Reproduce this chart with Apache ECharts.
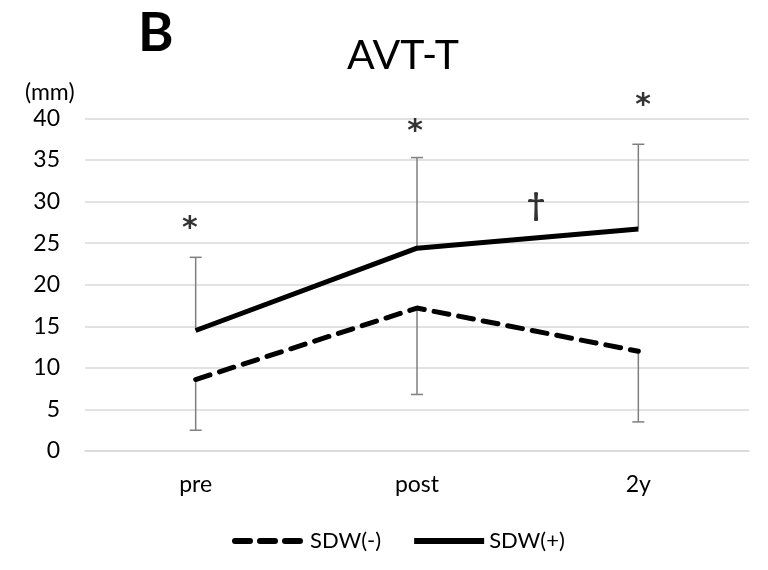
<!DOCTYPE html>
<html><head><meta charset="utf-8">
<script src="https://cdn.jsdelivr.net/npm/echarts@6/dist/echarts.min.js"></script>
<style>html,body{margin:0;padding:0;background:#fff}#c{width:768px;height:570px}</style>
</head><body><div id="c"></div>
<script>
var categories = ['pre', 'post', '2y'];
var sdwMinus = [8.6, 17.2, 12.0];
var sdwPlus = [14.5, 24.4, 26.7];
var sdwMinusLow = [2.5, 6.8, 3.5];
var sdwPlusHigh = [23.3, 35.3, 36.9];
var yTicks = [0, 5, 10, 15, 20, 25, 30, 35, 40];
var markX = [0.474, 1.491, 2.521, 2.038];
var markY = [27.6, 39.3, 42.5, 29.7];
var markText = ['*', '*', '*', '\u2020'];
var FONT = 'Lato';

var chart = echarts.init(document.getElementById('c'), null, {renderer: 'canvas'});

function errItem(params, api) {
  var x = api.value(0), a = api.value(1), b = api.value(2);
  var p1 = api.coord([x, a]), p2 = api.coord([x, b]);
  var cap = 6;
  var st = {stroke: '#7f7f7f', lineWidth: 1.5};
  return {type: 'group', children: [
    {type: 'line', shape: {x1: p1[0], y1: p1[1], x2: p2[0], y2: p2[1]}, style: st},
    {type: 'line', shape: {x1: p2[0] - cap, y1: p2[1], x2: p2[0] + cap, y2: p2[1]}, style: st}
  ]};
}

var starLabel = {fontFamily: 'DejaVu Sans', fontWeight: 'bold', fontSize: 30, offset: [0, 8]};
var daggerLabel = {fontFamily: FONT, fontWeight: 'bold', fontSize: 32, offset: [0, 2]};

var option = {
  animation: false,
  backgroundColor: '#fff',
  textStyle: {fontFamily: FONT},
  title: [
    {text: 'AVT-T', left: 398, top: 30, textAlign: 'center',
     textStyle: {fontFamily: FONT, fontSize: 41, fontWeight: 'normal', color: '#000'}},
    {text: 'B', left: 133, top: 2,
     textStyle: {fontFamily: FONT, fontSize: 54, fontWeight: 'bold', color: '#000'}},
    {text: '(mm)', left: 20, top: 76,
     textStyle: {fontFamily: FONT, fontSize: 23, fontWeight: 'normal', color: '#000'}}
  ],
  grid: {left: 85, right: 19, top: 118.5, bottom: 119, containLabel: false},
  legend: {
    bottom: 13, left: 227, itemWidth: 70, itemHeight: 14, itemGap: 30,
    data: ['SDW(-)', 'SDW(+)'],
    itemStyle: {opacity: 0},
    lineStyle: {width: 6},
    textStyle: {fontFamily: FONT, fontSize: 22, color: '#000'}
  },
  xAxis: [
    {type: 'category', data: categories, boundaryGap: true,
     axisLine: {show: true, lineStyle: {color: '#d9d9d9', width: 1.5}},
     axisTick: {show: false},
     axisLabel: {fontFamily: FONT, fontSize: 23, color: '#000', margin: 22}},
    {type: 'value', min: 0, max: 3, show: false}
  ],
  yAxis: {
    type: 'value', min: 0, max: 40, interval: 5,
    axisLine: {show: false}, axisTick: {show: false},
    axisLabel: {fontFamily: FONT, fontSize: 23, color: '#000', margin: 25},
    splitLine: {lineStyle: {color: '#d9d9d9', width: 1.5}}
  },
  series: [
    {type: 'custom', name: 'errMinus', renderItem: errItem, z: 1,
     data: categories.map(function (c, i) { return [i, sdwMinus[i], sdwMinusLow[i]]; })},
    {type: 'custom', name: 'errPlus', renderItem: errItem, z: 1,
     data: categories.map(function (c, i) { return [i, sdwPlus[i], sdwPlusHigh[i]]; })},
    {type: 'line', name: 'SDW(-)', data: sdwMinus, symbol: 'none', z: 3,
     lineStyle: {color: '#000', width: 5, type: [15, 10], cap: 'round'},
     itemStyle: {color: '#000'}},
    {type: 'line', name: 'SDW(+)', data: sdwPlus, symbol: 'none', z: 3,
     lineStyle: {color: '#000', width: 5},
     itemStyle: {color: '#000'}},
    {type: 'scatter', name: 'marks', xAxisIndex: 1, symbol: 'circle', symbolSize: 1, clip: false, z: 4,
     itemStyle: {color: 'rgba(0,0,0,0)'},
     data: markX.map(function (x, i) {
       return {value: [x, markY[i]], name: markText[i],
               label: markText[i] === '*' ? starLabel : daggerLabel};
     }),
     label: {show: true, position: 'inside', color: '#000',
       formatter: function (p) { return p.name; }}}
  ]
};
chart.setOption(option);
</script></body></html>
